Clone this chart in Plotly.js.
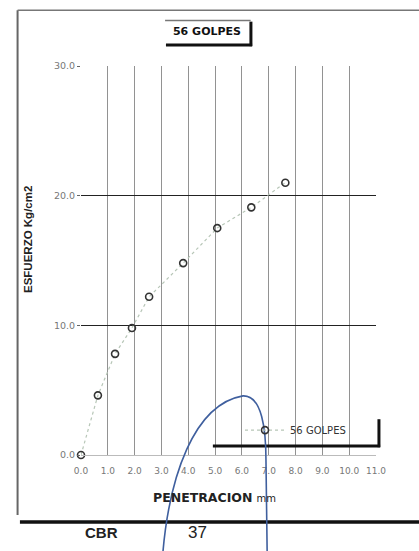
<!DOCTYPE html>
<html>
<head>
<meta charset="utf-8">
<script src="https://cdn.plot.ly/plotly-3.0.1.min.js"></script>
<style>html,body{margin:0;padding:0;background:#fff;}#chart{width:419px;height:551px;}</style>
</head>
<body>
<div id="chart"></div>
<script>
// Data
const penetracion = [0, 0.63, 1.27, 1.90, 2.54, 3.81, 5.08, 6.35, 7.62];
const esfuerzo = [0.0, 4.6, 7.8, 9.8, 12.2, 14.8, 17.5, 19.1, 21.0];
const xTickVals = [0,1,2,3,4,5,6,7,8,9,10,11];
const xTickText = ["0.0","1.0","2.0","3.0","4.0","5.0","6.0","7.0","8.0","9.0","10.0","11.0"];
const yTickVals = [0,10,20,30];
const yTickText = ["0.0","10.0","20.0","30.0"];
const seriesName = "56 GOLPES";
const xTitle = "PENETRACION";
const xUnit = "mm";
const yTitle = "ESFUERZO Kg/cm2";
const cbrLabel = "CBR";
const cbrValue = "37";

const font = "Liberation Sans, Arial, sans-serif";
const wide = "DejaVu Sans, Verdana, sans-serif";

const trace = {
  x: penetracion, y: esfuerzo, name: seriesName,
  type: "scatter", mode: "lines+markers", cliponaxis: false,
  line: {color: "#b7c6b7", width: 1.2, dash: "dot"},
  marker: {symbol: "circle-open", size: 7, color: "#333", line: {width: 1.6, color: "#333"}}
};

const blue = "#3f5f9e";
const shapes = [
  // outer frame
  {type:"line", xref:"paper", yref:"paper", x0:-0.215, x1:-0.215, y0:1.143, y1:-0.154, line:{color:"#666", width:2}},
  {type:"line", xref:"paper", yref:"paper", x0:-0.215, x1:1.2, y0:1.143, y1:1.143, line:{color:"#777", width:1.5}},
  {type:"line", xref:"paper", yref:"paper", x0:-0.207, x1:1.2, y0:-0.172, y1:-0.172, line:{color:"#111", width:3.5}},
  // title box
  {type:"line", xref:"paper", yref:"paper", x0:0.285, x1:0.575, y0:1.117, y1:1.117, line:{color:"#777", width:1.5}},
  {type:"line", xref:"paper", yref:"paper", x0:0.576, x1:0.576, y0:1.114, y1:1.051, line:{color:"#111", width:3}},
  {type:"line", xref:"paper", yref:"paper", x0:0.288, x1:0.580, y0:1.054, y1:1.054, line:{color:"#111", width:3}},
  // legend shadow
  {type:"line", xref:"paper", yref:"paper", x0:0.447, x1:1.014, y0:0.023, y1:0.023, line:{color:"#111", width:3}},
  {type:"line", xref:"paper", yref:"paper", x0:1.010, x1:1.010, y0:0.092, y1:0.020, line:{color:"#111", width:3}},
  // handwritten blue pen stroke
  {type:"path", xref:"paper", yref:"paper",
   path:"M0.278,-0.247 C0.300,-0.060 0.380,0.130 0.549,0.152 C0.614,0.154 0.627,0.064 0.627,-0.013 L0.631,-0.247",
   line:{color:blue, width:1.6}}
];

const layout = {
  width: 419, height: 551,
  margin: {l: 81, r: 43, t: 66, b: 96},
  paper_bgcolor: "#fff", plot_bgcolor: "#fff",
  font: {family: font, color: "#333"},
  showlegend: true,
  title: {text: "<b>" + seriesName + "</b>", x: 0.494, xref: "container", xanchor: "center",
          y: 0.944, yref: "container", yanchor: "middle", font: {size: 11, color: "#111", family: wide}},
  xaxis: {
    range: [0, 11], tickvals: xTickVals, ticktext: xTickText,
    showgrid: true, gridcolor: "#777", gridwidth: 0.8,
    zeroline: false, showline: true, linecolor: "#bbb", linewidth: 1,
    ticks: "outside", ticklen: 7, tickcolor: "rgba(0,0,0,0)",
    tickfont: {size: 9, color: "#777", family: wide},
    automargin: false, fixedrange: true
  },
  yaxis: {
    range: [0, 30], tickvals: yTickVals, ticktext: yTickText,
    showgrid: true, gridcolor: "#222", gridwidth: 1,
    zeroline: false, showline: false,
    ticks: "outside", ticklen: 3, tickcolor: "#666",
    tickfont: {size: 9.5, color: "#777", family: wide},
    automargin: false, fixedrange: true
  },
  legend: {x: 0.539, xanchor: "left", y: 0.064, yanchor: "middle",
           bgcolor: "rgba(0,0,0,0)", borderwidth: 0, itemwidth: 40,
           font: {size: 10, color: "#333", family: wide}},
  shapes: shapes,
  annotations: [
    {text: "<b>" + xTitle + "</b> <span style='font-size:10px;font-weight:normal'>" + xUnit + "</span>",
     xref: "paper", yref: "paper", x: 0.451, y: -0.108, xanchor: "center", yanchor: "middle",
     showarrow: false, font: {size: 12.5, color: "#222", family: wide}},
    {text: "<b>" + yTitle + "</b>", xref: "paper", yref: "paper", x: -0.180, y: 0.555, textangle: -90,
     xanchor: "center", yanchor: "middle", showarrow: false, font: {size: 11.5, color: "#222", family: font}},
    {text: "<b>" + cbrLabel + "</b>", xref: "paper", yref: "paper", x: 0.068, y: -0.198,
     xanchor: "center", yanchor: "middle", showarrow: false, font: {size: 15, color: "#222", family: font}},
    {text: cbrValue, xref: "paper", yref: "paper", x: 0.396, y: -0.198,
     xanchor: "center", yanchor: "middle", showarrow: false, font: {size: 17, color: "#222", family: font}}
  ]
};

Plotly.newPlot("chart", [trace], layout, {displayModeBar: false, staticPlot: true});
</script>
</body>
</html>
